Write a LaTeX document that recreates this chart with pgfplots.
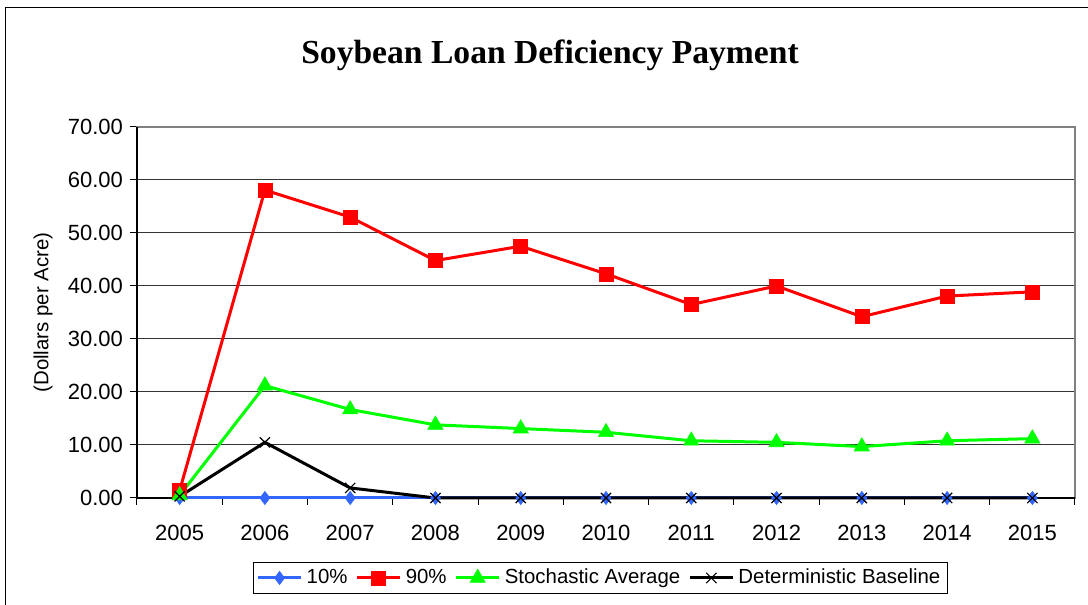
\documentclass[border=0pt]{standalone}
\usepackage{pgfplots}
\pgfplotsset{compat=1.18}
\usepackage{fontspec}
\setmainfont{Liberation Sans}
\newfontfamily\titlefont{Liberation Serif}
\definecolor{tenblue}{RGB}{51,102,255}
\definecolor{ngreen}{RGB}{0,255,0}
\begin{document}
\begin{tikzpicture}
\path[use as bounding box] (0,0) rectangle (544pt,302.5pt);
\draw[line width=0.8pt] (2.75pt,-20pt) -- (2.75pt,298.75pt) -- (560pt,298.75pt);
\node[font=\titlefont\bfseries\fontsize{16.8}{19}\selectfont] at (275pt,275pt) {Soybean Loan Deficiency Payment};
\begin{axis}[
  at={(68.5pt,53.5pt)}, anchor=south west,
  scale only axis, width=469pt, height=185.5pt,
  xmin=2004.5, xmax=2015.5, ymin=0, ymax=70,
  clip=false,
  xtick={2004.5,2005.5,...,2015.5}, xticklabels={},
  extra x ticks={2005,2006,...,2015},
  extra x tick style={major tick length=0pt, grid=none},
  extra x tick labels={2005,2006,2007,2008,2009,2010,2011,2012,2013,2014,2015},
  ytick={0,10,...,70},
  yticklabel style={/pgf/number format/.cd, fixed, fixed zerofill, precision=2},
  /pgf/number format/assume math mode=true,
  ymajorgrids, major grid style={black!80, line width=0.5pt},
  tick align=outside, major tick length=3.5pt,
  tick style={black, line width=0.5pt},
  xtick pos=bottom, ytick pos=left,
  axis line style={black!50, line width=0.6pt},
  tick label style={font=\fontsize{11}{13}\selectfont},
  xticklabel style={yshift=-10pt},
  ylabel={(Dollars per Acre)},
  ylabel style={font=\fontsize{10.2}{12}\selectfont, at={(rel axis cs:0,0.5)}, anchor=center, yshift=47pt},
  legend columns=-1,
  legend style={at={(rel axis cs:0.494,-0.2156)}, anchor=center, draw=black,
    font=\fontsize{10.2}{12}\selectfont, inner sep=1.5pt,
    nodes={inner sep=2pt},
    /tikz/every even column/.append style={column sep=2pt}},
  legend image code/.code={\draw[mark repeat=2,mark phase=2,#1,line width=1.5pt] plot coordinates {(0cm,0cm) (0.38cm,0cm) (0.76cm,0cm)};},
]
\draw[black, line width=0.6pt] (rel axis cs:0,1) -- (rel axis cs:0,0) -- (rel axis cs:1,0);
\addplot[color=tenblue, line width=1.5pt, mark=diamond*, mark size=3.3pt, mark options={solid, fill=tenblue, line width=0.3pt}] coordinates {
(2005,0) (2006,0) (2007,0) (2008,0) (2009,0) (2010,0) (2011,0) (2012,0) (2013,0) (2014,0) (2015,0)};
\addplot[color=red, line width=1.5pt, mark=square*, mark size=3.5pt, mark options={solid, fill=red, line width=0.3pt}] coordinates {
(2005,1.4) (2006,58.1) (2007,53.0) (2008,44.8) (2009,47.5) (2010,42.3) (2011,36.5) (2012,40.0) (2013,34.2) (2014,38.1) (2015,38.9)};
\addplot[color=ngreen, line width=1.5pt, mark=triangle*, mark size=4.4pt, mark options={solid, fill=ngreen, line width=0.3pt}] coordinates {
(2005,0.5) (2006,21.2) (2007,16.7) (2008,13.8) (2009,13.1) (2010,12.4) (2011,10.8) (2012,10.5) (2013,9.7) (2014,10.8) (2015,11.2)};
\addplot[color=black, line width=1.5pt, mark=x, mark size=3.6pt, mark options={solid, line width=0.6pt}] coordinates {
(2005,0.3) (2006,10.5) (2007,1.9) (2008,0) (2009,0) (2010,0) (2011,0) (2012,0) (2013,0) (2014,0) (2015,0)};
\legend{10\%, 90\%, Stochastic Average, Deterministic Baseline}
\end{axis}
\end{tikzpicture}
\end{document}
